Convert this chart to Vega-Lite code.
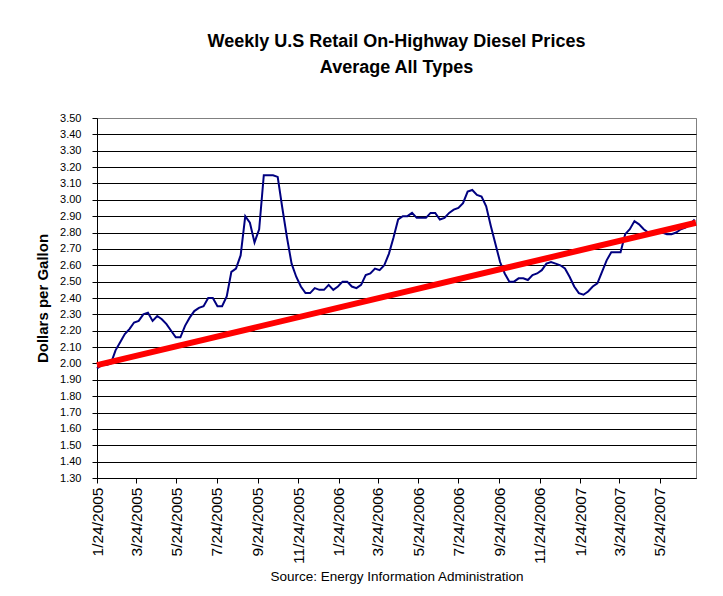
{
  "$schema": "https://vega.github.io/schema/vega-lite/v6.json",
  "autosize": {"type": "none"},
  "padding": {"left": 97, "top": 118, "right": 27, "bottom": 118},
  "width": 599,
  "height": 360,
  "background": "#ffffff",
  "title": {
    "text": ["Weekly U.S Retail On-Highway Diesel Prices", "Average All Types"],
    "font": "Liberation Sans",
    "fontSize": 18,
    "fontWeight": "bold",
    "lineHeight": 26,
    "color": "#000000",
    "offset": 35,
    "anchor": "middle"
  },
  "config": {
    "view": {"stroke": "#808080", "strokeWidth": 1},
    "axis": {
      "labelFont": "Liberation Sans",
      "titleFont": "Liberation Sans",
      "labelColor": "#000000",
      "titleColor": "#000000",
      "domainColor": "#000000",
      "tickColor": "#000000",
      "tickSize": 5
    }
  },
  "datasets": {
    "prices": [
      {"date": "2005/01/24", "price": 1.97},
      {"date": "2005/01/31", "price": 1.99},
      {"date": "2005/02/07", "price": 1.99},
      {"date": "2005/02/14", "price": 2.00},
      {"date": "2005/02/21", "price": 2.08},
      {"date": "2005/02/28", "price": 2.13},
      {"date": "2005/03/07", "price": 2.18},
      {"date": "2005/03/14", "price": 2.21},
      {"date": "2005/03/21", "price": 2.25},
      {"date": "2005/03/28", "price": 2.26},
      {"date": "2005/04/04", "price": 2.30},
      {"date": "2005/04/11", "price": 2.31},
      {"date": "2005/04/18", "price": 2.26},
      {"date": "2005/04/25", "price": 2.29},
      {"date": "2005/05/02", "price": 2.27},
      {"date": "2005/05/09", "price": 2.24},
      {"date": "2005/05/16", "price": 2.20},
      {"date": "2005/05/23", "price": 2.16},
      {"date": "2005/05/30", "price": 2.16},
      {"date": "2005/06/06", "price": 2.23},
      {"date": "2005/06/13", "price": 2.28},
      {"date": "2005/06/20", "price": 2.32},
      {"date": "2005/06/27", "price": 2.34},
      {"date": "2005/07/04", "price": 2.35},
      {"date": "2005/07/11", "price": 2.40},
      {"date": "2005/07/18", "price": 2.40},
      {"date": "2005/07/25", "price": 2.35},
      {"date": "2005/08/01", "price": 2.35},
      {"date": "2005/08/08", "price": 2.41},
      {"date": "2005/08/15", "price": 2.56},
      {"date": "2005/08/22", "price": 2.58},
      {"date": "2005/08/29", "price": 2.66},
      {"date": "2005/09/05", "price": 2.90},
      {"date": "2005/09/12", "price": 2.86},
      {"date": "2005/09/19", "price": 2.74},
      {"date": "2005/09/26", "price": 2.82},
      {"date": "2005/10/03", "price": 3.15},
      {"date": "2005/10/10", "price": 3.15},
      {"date": "2005/10/17", "price": 3.15},
      {"date": "2005/10/24", "price": 3.14},
      {"date": "2005/10/31", "price": 2.95},
      {"date": "2005/11/07", "price": 2.77},
      {"date": "2005/11/14", "price": 2.61},
      {"date": "2005/11/21", "price": 2.53},
      {"date": "2005/11/28", "price": 2.47},
      {"date": "2005/12/05", "price": 2.43},
      {"date": "2005/12/12", "price": 2.43},
      {"date": "2005/12/19", "price": 2.46},
      {"date": "2005/12/26", "price": 2.45},
      {"date": "2006/01/02", "price": 2.45},
      {"date": "2006/01/09", "price": 2.48},
      {"date": "2006/01/16", "price": 2.45},
      {"date": "2006/01/23", "price": 2.47},
      {"date": "2006/01/30", "price": 2.50},
      {"date": "2006/02/06", "price": 2.50},
      {"date": "2006/02/13", "price": 2.47},
      {"date": "2006/02/20", "price": 2.46},
      {"date": "2006/02/27", "price": 2.48},
      {"date": "2006/03/06", "price": 2.54},
      {"date": "2006/03/13", "price": 2.55},
      {"date": "2006/03/20", "price": 2.58},
      {"date": "2006/03/27", "price": 2.57},
      {"date": "2006/04/03", "price": 2.60},
      {"date": "2006/04/10", "price": 2.67},
      {"date": "2006/04/17", "price": 2.77},
      {"date": "2006/04/24", "price": 2.88},
      {"date": "2006/05/01", "price": 2.90},
      {"date": "2006/05/08", "price": 2.90},
      {"date": "2006/05/15", "price": 2.92},
      {"date": "2006/05/22", "price": 2.89},
      {"date": "2006/05/29", "price": 2.89},
      {"date": "2006/06/05", "price": 2.89},
      {"date": "2006/06/12", "price": 2.92},
      {"date": "2006/06/19", "price": 2.92},
      {"date": "2006/06/26", "price": 2.88},
      {"date": "2006/07/03", "price": 2.89},
      {"date": "2006/07/10", "price": 2.92},
      {"date": "2006/07/17", "price": 2.94},
      {"date": "2006/07/24", "price": 2.95},
      {"date": "2006/07/31", "price": 2.98},
      {"date": "2006/08/07", "price": 3.05},
      {"date": "2006/08/14", "price": 3.06},
      {"date": "2006/08/21", "price": 3.03},
      {"date": "2006/08/28", "price": 3.02},
      {"date": "2006/09/04", "price": 2.96},
      {"date": "2006/09/11", "price": 2.84},
      {"date": "2006/09/18", "price": 2.73},
      {"date": "2006/09/25", "price": 2.62},
      {"date": "2006/10/02", "price": 2.55},
      {"date": "2006/10/09", "price": 2.50},
      {"date": "2006/10/16", "price": 2.50},
      {"date": "2006/10/23", "price": 2.52},
      {"date": "2006/10/30", "price": 2.52},
      {"date": "2006/11/06", "price": 2.51},
      {"date": "2006/11/13", "price": 2.54},
      {"date": "2006/11/20", "price": 2.55},
      {"date": "2006/11/27", "price": 2.57},
      {"date": "2006/12/04", "price": 2.61},
      {"date": "2006/12/11", "price": 2.62},
      {"date": "2006/12/18", "price": 2.61},
      {"date": "2006/12/25", "price": 2.60},
      {"date": "2007/01/01", "price": 2.58},
      {"date": "2007/01/08", "price": 2.53},
      {"date": "2007/01/15", "price": 2.47},
      {"date": "2007/01/22", "price": 2.43},
      {"date": "2007/01/29", "price": 2.42},
      {"date": "2007/02/05", "price": 2.44},
      {"date": "2007/02/12", "price": 2.47},
      {"date": "2007/02/19", "price": 2.49},
      {"date": "2007/02/26", "price": 2.56},
      {"date": "2007/03/05", "price": 2.63},
      {"date": "2007/03/12", "price": 2.68},
      {"date": "2007/03/19", "price": 2.68},
      {"date": "2007/03/26", "price": 2.68},
      {"date": "2007/04/02", "price": 2.79},
      {"date": "2007/04/09", "price": 2.82},
      {"date": "2007/04/16", "price": 2.87},
      {"date": "2007/04/23", "price": 2.85},
      {"date": "2007/04/30", "price": 2.82},
      {"date": "2007/05/07", "price": 2.80},
      {"date": "2007/05/14", "price": 2.79},
      {"date": "2007/05/21", "price": 2.80},
      {"date": "2007/05/28", "price": 2.80},
      {"date": "2007/06/04", "price": 2.79},
      {"date": "2007/06/11", "price": 2.79},
      {"date": "2007/06/18", "price": 2.80},
      {"date": "2007/06/25", "price": 2.82},
      {"date": "2007/07/02", "price": 2.83},
      {"date": "2007/07/09", "price": 2.85},
      {"date": "2007/07/16", "price": 2.88}
    ],
    "trend": [
      {"date": "2005/01/24", "price": 1.99},
      {"date": "2007/07/18", "price": 2.86}
    ]
  },
  "encoding": {
    "x": {
      "field": "date",
      "type": "temporal",
      "scale": {
        "domain": [{"year": 2005, "month": 1, "date": 24}, {"year": 2007, "month": 7, "date": 18}],
        "nice": false
      },
      "axis": {
        "values": [
          {"year": 2005, "month": 1, "date": 24},
          {"year": 2005, "month": 3, "date": 24},
          {"year": 2005, "month": 5, "date": 24},
          {"year": 2005, "month": 7, "date": 24},
          {"year": 2005, "month": 9, "date": 24},
          {"year": 2005, "month": 11, "date": 24},
          {"year": 2006, "month": 1, "date": 24},
          {"year": 2006, "month": 3, "date": 24},
          {"year": 2006, "month": 5, "date": 24},
          {"year": 2006, "month": 7, "date": 24},
          {"year": 2006, "month": 9, "date": 24},
          {"year": 2006, "month": 11, "date": 24},
          {"year": 2007, "month": 1, "date": 24},
          {"year": 2007, "month": 3, "date": 24},
          {"year": 2007, "month": 5, "date": 24}
        ],
        "format": "%-m/%-d/%Y",
        "labelAngle": 270,
        "labelFontSize": 15.5,
        "labelPadding": 4,
        "labelOverlap": false,
        "labelFlush": false,
        "grid": false,
        "title": "Source:  Energy Information Administration",
        "titleFontSize": 13.5,
        "titleFontWeight": "normal",
        "titlePadding": 6
      }
    },
    "y": {
      "field": "price",
      "type": "quantitative",
      "scale": {"domain": [1.3, 3.5], "nice": false, "zero": false},
      "axis": {
        "values": [1.3, 1.4, 1.5, 1.6, 1.7, 1.8, 1.9, 2.0, 2.1, 2.2, 2.3, 2.4, 2.5, 2.6, 2.7, 2.8, 2.9, 3.0, 3.1, 3.2, 3.3, 3.4, 3.5],
        "format": ".2f",
        "labelFontSize": 11,
        "labelPadding": 11,
        "grid": true,
        "gridColor": {"condition": {"test": "datum.value >= 3.49", "value": "#808080"}, "value": "#000000"},
        "gridOpacity": 1,
        "gridWidth": 1,
        "title": "Dollars per Gallon",
        "titleFontSize": 15,
        "titleFontWeight": "bold",
        "titlePadding": 9
      }
    }
  },
  "layer": [
    {
      "data": {"name": "prices"},
      "mark": {"type": "line", "color": "#000080", "strokeWidth": 2}
    },
    {
      "data": {"name": "trend"},
      "mark": {"type": "line", "color": "#FF0000", "strokeWidth": 6}
    }
  ]
}
